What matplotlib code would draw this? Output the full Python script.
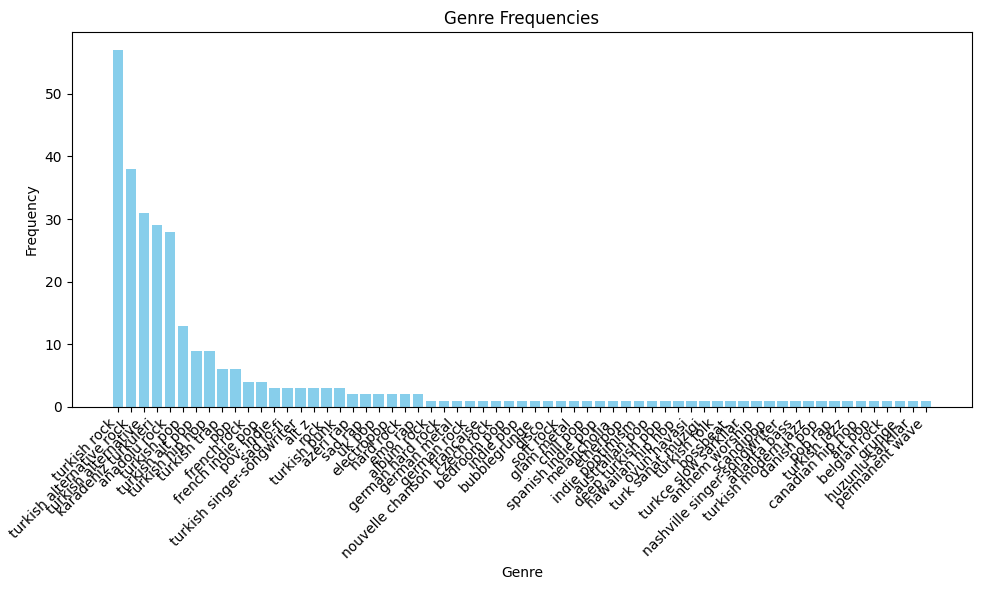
import matplotlib
matplotlib.use("Agg")
import matplotlib.pyplot as plt

genres = [
    "turkish rock", "turkish alternative rock", "turkish alternative",
    "karadeniz turkuleri", "anadolu rock", "turkish pop", "turkish alt pop",
    "turkish hip hop", "turkish trap", "pop", "french rock", "french indie pop",
    "pov: indie", "sad lo-fi", "turkish singer-songwriter", "alt z", "rock",
    "turkish punk", "azeri rap", "sad rap", "uk pop", "electropop", "hard rock",
    "emo rap", "album rock", "german hard rock", "german metal", "german rock",
    "nouvelle chanson francaise", "czech rock", "bedroom pop", "indie pop",
    "bubblegrunge", "disco", "soft rock", "glam metal", "chill pop",
    "spanish indie pop", "melancholia", "etherpop", "indie poptimism",
    "australian pop", "deep turkish pop", "hawaiian hip hop", "oyun havasi",
    "turk sanat muzigi", "turkish folk", "bossbeat", "turkce slow sarkilar",
    "anthem worship", "scandipop", "nashville singer-songwriter", "atlanta bass",
    "turkish modern jazz", "danish pop", "pop rap", "turkish jazz",
    "canadian hip hop", "art pop", "belgian rock", "grunge", "huzunlu sarkilar",
    "permanent wave",
]
counts = [57, 38, 31, 29, 28, 13, 9, 9, 6, 6, 4, 4,
          3, 3, 3, 3, 3, 3,
          2, 2, 2, 2, 2, 2] + [1] * (len(genres) - 24)

fig, ax = plt.subplots(figsize=(9.82, 5.9), dpi=100)
ax.bar(genres, counts, color="skyblue")
ax.set_title("Genre Frequencies")
ax.set_xlabel("Genre")
ax.set_ylabel("Frequency")
plt.xticks(rotation=45, ha="right")
fig.subplots_adjust(left=72/982, right=972/982, top=1-32/590, bottom=1-407/590)
fig.savefig("out.png")
